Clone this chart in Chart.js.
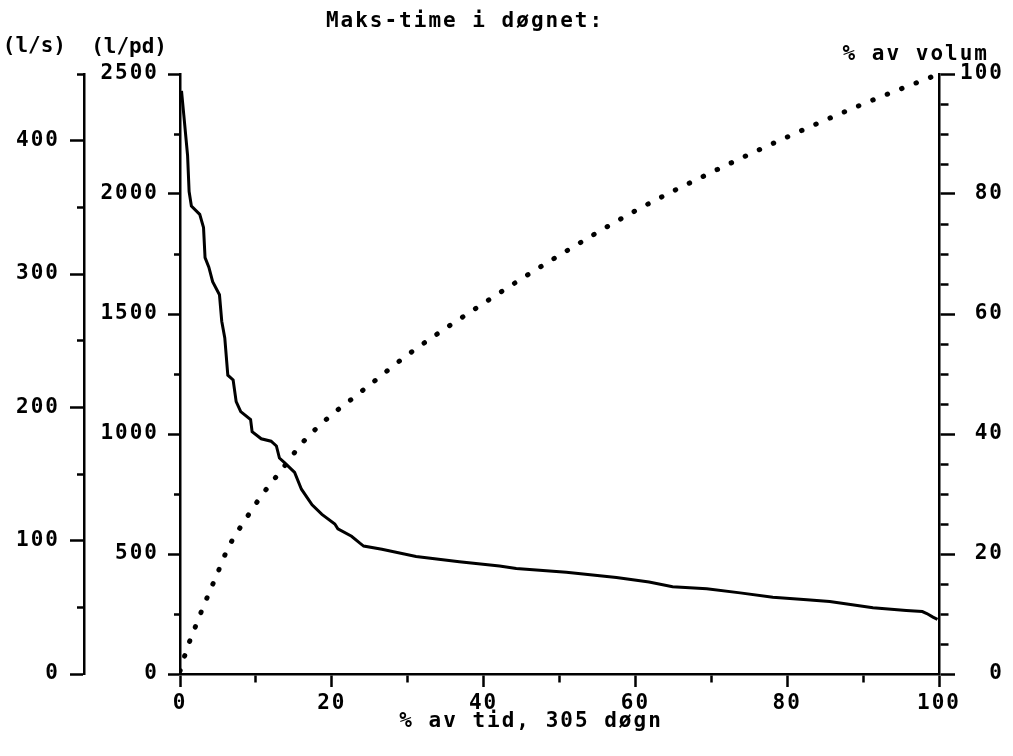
<!DOCTYPE html>
<html>
<head>
<meta charset="utf-8">
<script src="https://cdn.jsdelivr.net/npm/chart.js"></script>
<style>
  body { margin: 0; background: #fff; }
  #wrap { width: 1013px; height: 756px; }
</style>
</head>
<body>
<div id="wrap"><canvas id="chart" width="1013" height="756"></canvas></div>
<script>
const titleText = "Maks-time i døgnet:";
const xTitle = "% av tid, 305 døgn";
const lsTitle = "(l/s)";
const lpdTitle = "(l/pd)";
const volTitle = "% av volum";

// solid curve: l/pd against % of time
const flowTime = [0.2, 0.5, 1.0, 1.2, 1.5, 2.6, 3.1, 3.3, 3.8, 4.3, 5.2, 5.5, 5.9, 6.3, 7.0, 7.4, 8.0, 9.3, 9.5,
  10.7, 12.0, 12.7, 13.1, 13.8, 15.1, 16.0, 17.4, 18.7, 20.4, 20.8, 22.6, 23.7, 24.2, 26.6, 31.1, 36.8,
  42.1, 44.3, 50.9, 57.5, 61.8, 64.9, 69.4, 73.8, 78.1, 82.6, 85.6, 91.3, 95.7, 97.8, 98.4, 99.2, 99.8];
const flowLpd = [2430, 2330, 2160, 2010, 1950, 1915, 1860, 1735, 1695, 1635, 1580, 1470, 1400, 1245, 1225, 1135, 1093, 1060, 1010,
  980, 970, 950, 900, 880, 840, 770, 705, 665, 625, 605, 574, 545, 533, 520, 490, 468,
  450, 440, 424, 402, 383, 364, 355, 338, 320, 309, 302, 276, 265, 260, 252, 237, 228];

// dotted curve: cumulative % of volume
const volTime = [0, 1, 2, 3, 4, 5, 6.3, 8.8, 10.9, 13.5, 16.1, 19.7, 22.4, 25, 30, 40, 50, 60, 70, 80, 90, 100];
const volPct = [0.5, 4.5, 7.8, 11.0, 14.0, 17.0, 20.9, 26.1, 30.0, 34.2, 38.5, 42.9, 45.6, 48.2, 53.2, 61.8, 69.8, 77.2, 83.6, 89.5, 95.0, 100];

const fontFam = "'DejaVu Sans Mono', monospace";
const tickFont = { family: fontFam, size: 21, weight: 'bold' };
const spacing = '2px';

// minor tick = short; left axes draw ticks from the far end, others from the axis
function nearDash(every, len, far) {
  return ctx => {
    if (!ctx.tick || ctx.tick.value % every === 0) return [];
    return far ? [len, len] : [len, 100];
  };
}
function nearOffset(every, len, far) {
  return ctx => (far && ctx.tick && ctx.tick.value % every !== 0) ? len : 0;
}

const textPlugin = {
  id: 'texts',
  beforeDraw(chart) {
    chart.ctx.letterSpacing = spacing;
  },
  afterDraw(chart) {
    const ctx = chart.ctx;
    const s = chart.scales;
    const top = chart.chartArea.top;
    ctx.save();
    ctx.fillStyle = '#000';
    ctx.font = 'bold 21px ' + fontFam;
    ctx.textBaseline = 'middle';
    ctx.letterSpacing = spacing;
    ctx.textAlign = 'center';
    ctx.fillText(titleText, 465, 22);
    ctx.fillText(xTitle, 531, 722);
    ctx.textAlign = 'right';
    ctx.fillText(volTitle, s.vol.left + 50, top - 19);
    ctx.letterSpacing = '0px';
    ctx.fillText(lsTitle, s.ls.right - 18, top - 27);
    ctx.fillText(lpdTitle, s.lpd.right - 13, top - 26);
    ctx.restore();
  }
};

const axisBorder = { display: true, color: '#000', width: 2.5 };

new Chart(document.getElementById('chart'), {
  type: 'line',
  data: {
    datasets: [
      {
        data: flowTime.map((t, i) => ({ x: t, y: flowLpd[i] })),
        yAxisID: 'lpd',
        borderColor: '#000',
        borderWidth: 3,
        pointRadius: 0,
        tension: 0,
        fill: false
      },
      {
        data: volTime.map((t, i) => ({ x: t, y: volPct[i] })),
        yAxisID: 'vol',
        borderColor: '#000',
        borderWidth: 5,
        borderDash: [0.5, 15],
        borderCapStyle: 'round',
        cubicInterpolationMode: 'monotone',
        pointRadius: 0,
        fill: false
      }
    ]
  },
  options: {
    responsive: false,
    animation: false,
    events: [],
    layout: { padding: { top: 74, right: 9, left: 0, bottom: 0 } },
    plugins: { legend: { display: false }, tooltip: { enabled: false }, title: { display: false } },
    scales: {
      x: {
        type: 'linear',
        position: 'bottom',
        min: 0, max: 100,
        border: axisBorder,
        grid: {
          drawOnChartArea: false, color: '#000', tickColor: '#000', tickWidth: 2.5, tickLength: 13,
          tickBorderDash: nearDash(20, 7, false)
        },
        ticks: {
          stepSize: 10, color: '#000', font: tickFont, padding: 4, maxRotation: 0, autoSkip: false,
          callback: v => (v % 20 === 0 ? v : '')
        },
        afterFit: sc => { sc.height = 82; }
      },
      lpd: {
        type: 'linear',
        position: 'left',
        weight: 0,
        min: 0, max: 2500,
        border: axisBorder,
        grid: {
          drawOnChartArea: false, color: '#000', tickColor: '#000', tickWidth: 2.5, tickLength: 12,
          tickBorderDash: nearDash(500, 6, true),
          tickBorderDashOffset: nearOffset(500, 6, true)
        },
        ticks: {
          stepSize: 250, color: '#000', font: tickFont, padding: 9, autoSkip: false,
          callback: v => (v % 500 === 0 ? v : '')
        },
        afterFit: sc => { sc.width = 96; }
      },
      ls: {
        type: 'linear',
        position: 'left',
        weight: 1,
        min: 0, max: 450,
        border: axisBorder,
        grid: {
          drawOnChartArea: false, color: '#000', tickColor: '#000', tickWidth: 2.5, tickLength: 14,
          tickBorderDash: nearDash(100, 7, true),
          tickBorderDashOffset: nearOffset(100, 7, true)
        },
        ticks: {
          stepSize: 50, color: '#000', font: tickFont, padding: 10, autoSkip: false,
          callback: v => (v % 100 === 0 ? v : '')
        },
        afterFit: sc => { sc.width = 84; }
      },
      vol: {
        type: 'linear',
        position: 'right',
        min: 0, max: 100,
        border: axisBorder,
        grid: {
          drawOnChartArea: false, color: '#000', tickColor: '#000', tickWidth: 2.5, tickLength: 16,
          tickBorderDash: nearDash(20, 8, false)
        },
        ticks: {
          stepSize: 5, color: '#000', font: tickFont, crossAlign: 'far', autoSkip: false,
          callback: v => (v % 20 === 0 ? v : '')
        },
        afterFit: sc => { sc.width = 65; }
      }
    }
  },
  plugins: [textPlugin]
});
</script>
</body>
</html>
